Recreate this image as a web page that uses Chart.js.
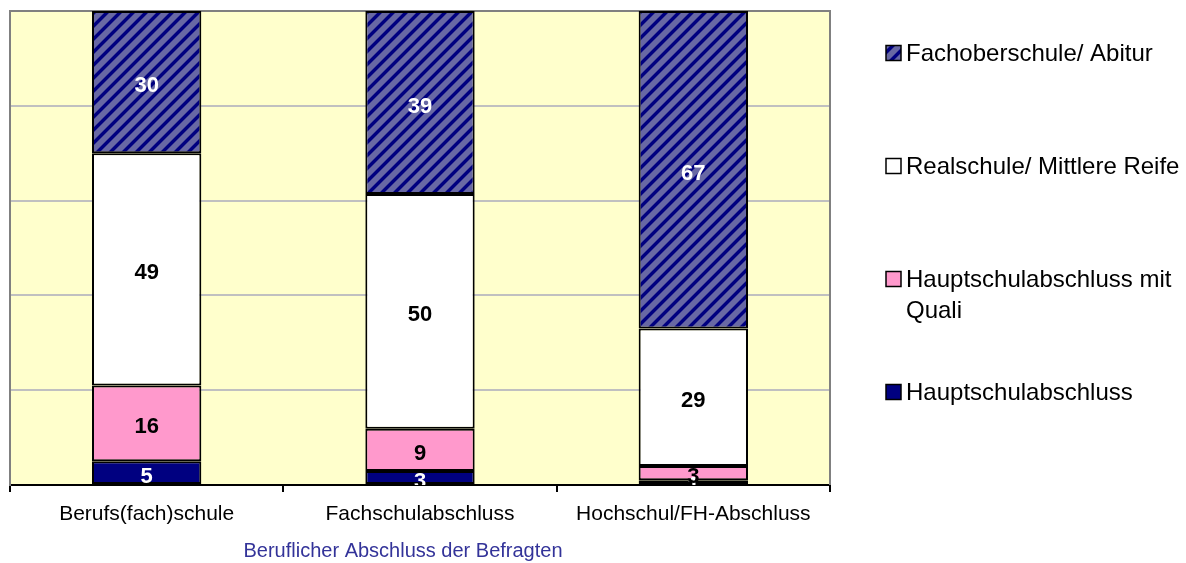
<!DOCTYPE html>
<html lang="de">
<head>
    <meta charset="UTF-8">
    <title>Schulabschluss nach beruflichem Abschluss</title>
    <script src="https://cdn.jsdelivr.net/npm/chart.js"></script>
    <style>
        html, body { margin: 0; padding: 0; background: #fff; }
        #wrap { width: 1186px; height: 563px; position: relative; }
    </style>
</head>
<body>
<div id="wrap"><canvas id="chart"></canvas></div>

<script>
    const categories = ['Berufs(fach)schule', 'Fachschulabschluss', 'Hochschul/FH-Abschluss'];
    const seriesNames = ['Hauptschulabschluss', 'Hauptschulabschluss mit Quali', 'Realschule/ Mittlere Reife', 'Fachoberschule/ Abitur'];
    const hauptschule = [5, 3, 1];
    const quali = [16, 9, 3];
    const realschule = [49, 50, 29];
    const abitur = [30, 39, 67];
    const yTicks = [0, 20, 40, 60, 80, 100];
    const axisTitle = 'Beruflicher Abschluss der Befragten';

    const FONT = "'Liberation Sans', Arial, sans-serif";

    // diagonal "/" stripes, built pixel by pixel so the tile has no seams
    function hatchPattern() {
        const n = 13;
        const c = document.createElement('canvas');
        c.width = c.height = n;
        const g = c.getContext('2d');
        for (let y = 0; y < n; y++) {
            for (let x = 0; x < n; x++) {
                const d = (x + y) % n;
                g.fillStyle = d < 4 ? '#000080' : (d === 4 || d === n - 1 ? '#3A3A92' : '#6868A4');
                g.fillRect(x, y, 1, 1);
            }
        }
        return g.createPattern(c, 'repeat');
    }

    // stacked to 100 % per column; labels keep the printed values
    const raw = [hauptschule, quali, realschule, abitur];
    const totals = categories.map((_, i) => raw.reduce((s, arr) => s + arr[i], 0));
    const pct = arr => arr.map((v, i) => v / totals[i] * 100);

    const fills = ['#000080', '#FF99CC', '#FFFFFF', hatchPattern()];
    const labelColors = ['#FFFFFF', '#000000', '#000000', '#FFFFFF'];

    const datasets = raw.map((arr, k) => ({
        label: seriesNames[k],
        data: pct(arr),
        raw: arr,
        backgroundColor: fills[k],
        borderColor: '#000000',
        borderWidth: 2,
        borderSkipped: false,
        barPercentage: 0.4,
        categoryPercentage: 1.0
    }));

    function wrapText(ctx, text, maxW) {
        const words = text.split(' ');
        const lines = [];
        let line = '';
        words.forEach(w => {
            const t = line ? line + ' ' + w : w;
            if (ctx.measureText(t).width > maxW && line) { lines.push(line); line = w; }
            else line = t;
        });
        lines.push(line);
        return lines;
    }

    const decor = {
        id: 'decor',
        beforeDraw(chart) {
            const { ctx, chartArea: a } = chart;
            ctx.save();
            ctx.fillStyle = '#FFFFCC';
            ctx.fillRect(a.left, a.top, a.right - a.left, a.bottom - a.top);
            ctx.restore();
        },
        beforeDatasetsDraw(chart) {
            const { ctx, chartArea: a } = chart;
            ctx.save();
            ctx.strokeStyle = '#808080';
            ctx.lineWidth = 2;
            ctx.beginPath();
            ctx.moveTo(a.left, a.top);
            ctx.lineTo(a.right, a.top);
            ctx.lineTo(a.right, a.bottom);
            ctx.stroke();
            ctx.restore();
        },
        afterDatasetsDraw(chart) {
            const { ctx, chartArea: a } = chart;
            ctx.save();
            ctx.beginPath();
            ctx.rect(a.left, a.top, a.right - a.left, a.bottom - a.top);
            ctx.clip();
            ctx.font = 'bold 22px ' + FONT;
            ctx.textAlign = 'center';
            ctx.textBaseline = 'middle';
            chart.data.datasets.forEach((ds, k) => {
                chart.getDatasetMeta(k).data.forEach((bar, i) => {
                    ctx.fillStyle = labelColors[k];
                    ctx.fillText(String(ds.raw[i]), bar.x, (bar.y + bar.base) / 2 + 4);
                });
            });
            ctx.restore();
        },
        afterDraw(chart) {
            const { ctx } = chart;
            ctx.save();
            // axis title
            ctx.font = '20px ' + FONT;
            ctx.fillStyle = '#333399';
            ctx.textAlign = 'center';
            ctx.textBaseline = 'alphabetic';
            ctx.fillText(axisTitle, 403, 557);

            // legend, top series first
            ctx.font = '24px ' + FONT;
            ctx.textAlign = 'left';
            const order = [3, 2, 1, 0];
            order.forEach((k, n) => {
                const cy = 53 + n * 113;
                ctx.fillStyle = chart.data.datasets[k].backgroundColor;
                ctx.fillRect(886, cy - 7.5, 15, 15);
                ctx.strokeStyle = '#000';
                ctx.lineWidth = 1.5;
                ctx.strokeRect(886, cy - 7.5, 15, 15);
                ctx.fillStyle = '#000';
                wrapText(ctx, chart.data.datasets[k].label, 278).forEach((ln, j) => {
                    ctx.fillText(ln, 906, cy + 8 + j * 31);
                });
            });
            ctx.restore();
        }
    };

    new Chart(document.getElementById('chart'), {
        type: 'bar',
        data: { labels: categories, datasets },
        options: {
            responsive: true,
            maintainAspectRatio: false,
            animation: false,
            layout: { padding: { left: 10, right: 356, top: 11, bottom: 0 } },
            plugins: {
                legend: { display: false },
                tooltip: { enabled: false }
            },
            scales: {
                x: {
                    stacked: true,
                    afterFit: s => { s.height = 78; },
                    border: { color: '#000000', width: 2 },
                    grid: {
                        offset: true,
                        drawOnChartArea: false,
                        drawTicks: true,
                        tickLength: 7,
                        color: '#000000',
                        lineWidth: 2
                    },
                    ticks: {
                        color: '#000000',
                        font: { family: FONT, size: 21 },
                        padding: 10,
                        maxRotation: 0
                    }
                },
                y: {
                    stacked: true,
                    min: yTicks[0],
                    max: yTicks[yTicks.length - 1],
                    afterFit: s => { s.width = 0; },
                    afterBuildTicks: s => { s.ticks = yTicks.map(v => ({ value: v })); },
                    border: { color: '#808080', width: 2 },
                    grid: {
                        color: c => c.tick && c.tick.value === 100 ? '#808080' : '#C0C0C0',
                        lineWidth: 2,
                        drawTicks: false
                    },
                    ticks: { display: false }
                }
            }
        },
        plugins: [decor]
    });
</script>
</body>
</html>
